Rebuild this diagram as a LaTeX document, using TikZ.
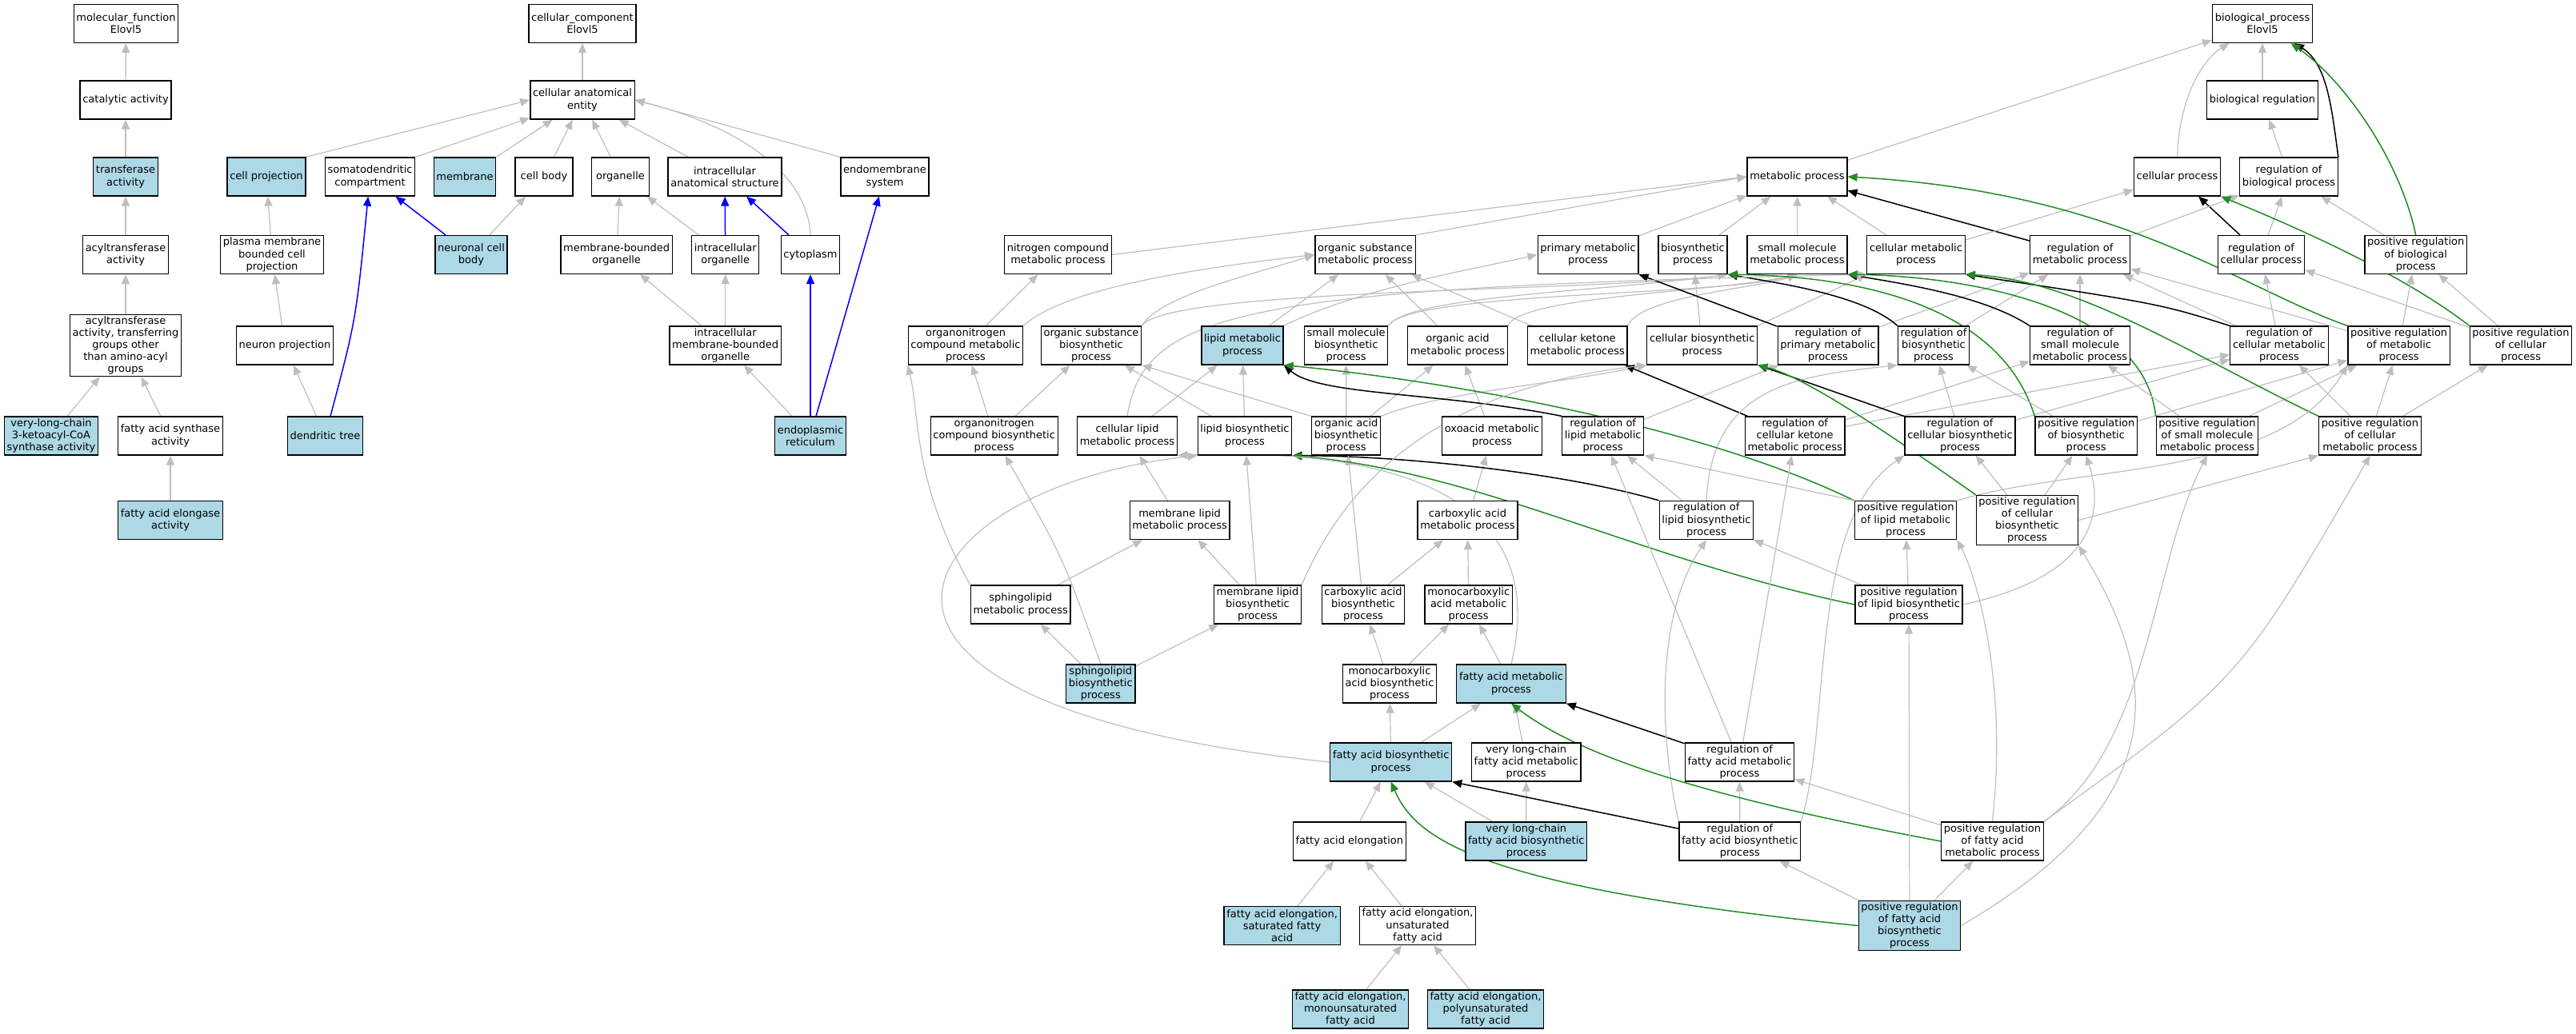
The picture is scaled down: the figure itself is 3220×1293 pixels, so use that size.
\documentclass[tikz,border=0pt]{standalone}
\usepackage{fontspec}
\setmainfont{DejaVu Sans}
\usetikzlibrary{arrows.meta,backgrounds}
\definecolor{isagray}{HTML}{BEBEBE}
\definecolor{hitblue}{HTML}{ADD8E6}
\definecolor{posgreen}{HTML}{228B22}
\newcommand\termfont{\fontsize{6.5}{7.6}\selectfont}
\tikzset{
 term/.style={draw=black,line width=0.65pt,fill=white,align=center,font=\termfont,inner xsep=1.6pt,inner ysep=1pt,minimum width=36pt,minimum height=24pt},
 hit/.style={term,fill=hitblue},
 isa/.style={draw=isagray,line width=0.6pt,-{Triangle[length=6pt,width=5pt]}},
 partof/.style={draw=blue,line width=0.75pt,-{Triangle[length=6pt,width=5pt]}},
 regulates/.style={draw=black,line width=0.75pt,-{Triangle[length=6pt,width=5pt]}},
 posreg/.style={draw=posgreen,line width=0.75pt,-{Triangle[length=6pt,width=5pt]}}
}
\begin{document}
\begin{tikzpicture}[x=0.5pt,y=-0.5pt]
 \useasboundingbox (0,0) rectangle (3220,1293);

 \node[term] (mf) at (157.5,29.5) {molecular\_function\\Elovl5};
 \node[term] (catalytic) at (157,125) {catalytic activity};
 \node[hit] (transferase) at (157,221) {transferase\\activity};
 \node[term] (acyltrans) at (157,318.5) {acyltransferase\\activity};
 \node[term] (acylgroups) at (157,432) {acyltransferase\\activity, transferring\\groups other\\than amino-acyl\\groups};
 \node[hit] (vlcsynthase) at (64,545) {very-long-chain\\3-ketoacyl-CoA\\synthase activity};
 \node[term] (fasynthase) at (213,545) {fatty acid synthase\\activity};
 \node[hit] (faelongase) at (213,650.5) {fatty acid elongase\\activity};

 \node[term] (cc) at (728,29.5) {cellular\_component\\Elovl5};
 \node[term] (cae) at (728,125) {cellular anatomical\\entity};
 \node[hit] (cellproj) at (333,221) {cell projection};
 \node[term] (somato) at (462.6,221) {somatodendritic\\compartment};
 \node[hit] (membrane) at (581,221) {membrane};
 \node[term] (cellbody) at (680,221) {cell body};
 \node[term] (organelle) at (775.5,221) {organelle};
 \node[term] (ias) at (906,221) {intracellular\\anatomical structure};
 \node[term] (endomem) at (1106,221) {endomembrane\\system};
 \node[term] (pmbcp) at (340,318.5) {plasma membrane\\bounded cell\\projection};
 \node[hit] (ncb) at (589,318.5) {neuronal cell\\body};
 \node[term] (mbo) at (770.6,318.5) {membrane-bounded\\organelle};
 \node[term] (io) at (906.7,318.5) {intracellular\\organelle};
 \node[term] (cytoplasm) at (1013,318.5) {cytoplasm};
 \node[term] (neuronproj) at (356,432) {neuron projection};
 \node[term] (imbo) at (906.7,432) {intracellular\\membrane-bounded\\organelle};
 \node[hit] (dendtree) at (406.5,545) {dendritic tree};
 \node[hit] (er) at (1013,545) {endoplasmic\\reticulum};

 \node[term] (bp) at (2828,29.5) {biological\_process\\Elovl5};
 \node[term] (bioreg) at (2828,125) {biological regulation};
 \node[term] (metab) at (2246.5,221) {metabolic process};
 \node[term] (cellproc) at (2721.5,221) {cellular process};
 \node[term] (regbio) at (2861,221) {regulation of\\biological process};
 \node[term] (nitro) at (1322.5,318.5) {nitrogen compound\\metabolic process};
 \node[term] (orgsub) at (1706.5,318.5) {organic substance\\metabolic process};
 \node[term] (primary) at (1985,318.5) {primary metabolic\\process};
 \node[term] (biosyn) at (2116,318.5) {biosynthetic\\process};
 \node[term] (smallmol) at (2246.5,318.5) {small molecule\\metabolic process};
 \node[term] (cellmetab) at (2395,318.5) {cellular metabolic\\process};
 \node[term] (regmetab) at (2600,318.5) {regulation of\\metabolic process};
 \node[term] (regcell) at (2826.5,318.5) {regulation of\\cellular process};
 \node[term] (posregbio) at (3019.7,318.5) {positive regulation\\of biological\\process};

 \node[term] (orgnitro) at (1207,432) {organonitrogen\\compound metabolic\\process};
 \node[term] (orgsubbio) at (1364,432) {organic substance\\biosynthetic\\process};
 \node[hit] (lipidmet) at (1553,432) {lipid metabolic\\process};
 \node[term] (smallbio) at (1682.6,432) {small molecule\\biosynthetic\\process};
 \node[term] (orgacid) at (1822,432) {organic acid\\metabolic process};
 \node[term] (ketone) at (1971.7,432) {cellular ketone\\metabolic process};
 \node[term] (cellbio) at (2127.7,432) {cellular biosynthetic\\process};
 \node[term] (regprim) at (2285,432) {regulation of\\primary metabolic\\process};
 \node[term] (regbiosyn) at (2417,432) {regulation of\\biosynthetic\\process};
 \node[term] (regsmall) at (2600,432) {regulation of\\small molecule\\metabolic process};
 \node[term] (regcellmet) at (2849,432) {regulation of\\cellular metabolic\\process};
 \node[term] (posregmet) at (2998.6,432) {positive regulation\\of metabolic\\process};
 \node[term] (posregcell) at (3151,432) {positive regulation\\of cellular\\process};

 \node[term] (orgnitrobio) at (1242.7,545) {organonitrogen\\compound biosynthetic\\process};
 \node[term] (celllipid) at (1409,545) {cellular lipid\\metabolic process};
 \node[term] (lipidbio) at (1556,545) {lipid biosynthetic\\process};
 \node[term] (orgacidbio) at (1682.7,545) {organic acid\\biosynthetic\\process};
 \node[term] (oxoacid) at (1865,545) {oxoacid metabolic\\process};
 \node[term] (reglipid) at (2003.7,545) {regulation of\\lipid metabolic\\process};
 \node[term] (regketone) at (2243.7,545) {regulation of\\cellular ketone\\metabolic process};
 \node[term] (regcellbio) at (2450,545) {regulation of\\cellular biosynthetic\\process};
 \node[term] (posregbiosyn) at (2607.7,545) {positive regulation\\of biosynthetic\\process};
 \node[term] (posregsmall) at (2759,545) {positive regulation\\of small molecule\\metabolic process};
 \node[term] (posregcellmet) at (2962.5,545) {positive regulation\\of cellular\\metabolic process};

 \node[term] (memlipid) at (1474.6,650.5) {membrane lipid\\metabolic process};
 \node[term] (carbox) at (1834.5,650.5) {carboxylic acid\\metabolic process};
 \node[term] (reglipidbio) at (2133,650.5) {regulation of\\lipid biosynthetic\\process};
 \node[term] (posreglipid) at (2382,650.5) {positive regulation\\of lipid metabolic\\process};
 \node[term] (posregcellbio) at (2534,650.5) {positive regulation\\of cellular\\biosynthetic\\process};

 \node[term] (sphingo) at (1275.7,756) {sphingolipid\\metabolic process};
 \node[term] (memlipidbio) at (1572,756) {membrane lipid\\biosynthetic\\process};
 \node[term] (carboxbio) at (1704,756) {carboxylic acid\\biosynthetic\\process};
 \node[term] (monocarb) at (1835.7,756) {monocarboxylic\\acid metabolic\\process};
 \node[term] (posreglipidbio) at (2386,756) {positive regulation\\of lipid biosynthetic\\process};

 \node[hit] (sphingobio) at (1375.8,855) {sphingolipid\\biosynthetic\\process};
 \node[term] (monocarbbio) at (1737,855) {monocarboxylic\\acid biosynthetic\\process};
 \node[hit] (famet) at (1889,855) {fatty acid metabolic\\process};

 \node[hit] (fabio) at (1738.7,953) {fatty acid biosynthetic\\process};
 \node[term] (vlcfamet) at (1907.7,953) {very long-chain\\fatty acid metabolic\\process};
 \node[term] (regfamet) at (2174.5,953) {regulation of\\fatty acid metabolic\\process};

 \node[term] (faelong) at (1686.8,1052) {fatty acid elongation};
 \node[hit] (vlcfabio) at (1907.8,1052) {very long-chain\\fatty acid biosynthetic\\process};
 \node[term] (regfabio) at (2174.8,1052) {regulation of\\fatty acid biosynthetic\\process};
 \node[term] (posregfamet) at (2490.5,1052) {positive regulation\\of fatty acid\\metabolic process};

 \node[hit] (elongsat) at (1602.6,1157.5) {fatty acid elongation,\\saturated fatty\\acid};
 \node[term] (elongunsat) at (1772,1157.5) {fatty acid elongation,\\unsaturated\\fatty acid};
 \node[hit] (posregfabio) at (2387,1157.5) {positive regulation\\of fatty acid\\biosynthetic\\process};

 \node[hit] (elongmono) at (1688,1262) {fatty acid elongation,\\monounsaturated\\fatty acid};
 \node[hit] (elongpoly) at (1857,1262) {fatty acid elongation,\\polyunsaturated\\fatty acid};

 \begin{pgfonlayer}{background}
 \draw[isa] (catalytic) -- (mf);
 \draw[isa] (transferase) -- (catalytic);
 \draw[isa] (acyltrans) -- (transferase);
 \draw[isa] (acylgroups) -- (acyltrans);
 \draw[isa] (vlcsynthase) -- (acylgroups);
 \draw[isa] (fasynthase) -- (acylgroups);
 \draw[isa] (faelongase) -- (fasynthase);

 \draw[isa] (cae) -- (cc);
 \draw[isa] (cellproj.north east) -- (cae.west);
 \draw[isa] (somato.north east) -- (cae);
 \draw[isa] (membrane.north east) -- (cae);
 \draw[isa] (cellbody) -- (cae);
 \draw[isa] (organelle) -- (cae);
 \draw[isa] (ias) -- (cae);
 \draw[isa] (endomem.north west) -- (cae.east);
 \draw[isa] (cytoplasm.north) .. controls (1010,220) and (930,160) .. (cae.east);
 \draw[isa] (pmbcp) -- (cellproj);
 \draw[partof] (ncb) -- (somato);
 \draw[isa] (ncb) -- (cellbody);
 \draw[isa] (mbo) -- (organelle);
 \draw[isa] (io) -- (organelle);
 \draw[partof] (io) -- (ias);
 \draw[partof] (cytoplasm) -- (ias);
 \draw[isa] (neuronproj) -- (pmbcp);
 \draw[isa] (imbo) -- (mbo);
 \draw[isa] (imbo) -- (io);
 \draw[isa] (dendtree) -- (neuronproj);
 \draw[partof] (dendtree) .. controls (445,400) .. (somato);
 \draw[isa] (er) -- (imbo);
 \draw[partof] (er) -- (cytoplasm);
 \draw[partof] (er) -- (endomem);

 \draw[isa] (metab) -- (bp);
 \draw[isa] (cellproc.north) .. controls (2725,110) and (2760,70) .. (bp);
 \draw[isa] (bioreg) -- (bp);
 \draw[regulates] (regbio.north east) .. controls (2915,140) and (2910,80) .. (bp);
 \draw[posreg] (posregbio.north) .. controls (3000,200) and (2930,100) .. (bp);
 \draw[isa] (regbio) -- (bioreg);
 \draw[regulates] (regcell) -- (cellproc);
 \draw[isa] (regcell) -- (regbio);
 \draw[isa] (posregbio) -- (regbio);
 \draw[regulates] (regmetab) -- (metab);
 \draw[isa] (regmetab) -- (regbio);
 \draw[isa] (cellmetab) -- (cellproc);
 \draw[posreg] (posregcell.north west) .. controls (3000,340) and (2860,280) .. (cellproc.south east);
 \draw[isa] (posregcell) -- (regcell);
 \draw[isa] (posregcell) -- (posregbio);
 \draw[posreg] (posregmet.north west) .. controls (2800,360) and (2650,240) .. (metab.east);
 \draw[isa] (posregmet) -- (regmetab);
 \draw[isa] (posregmet) -- (posregbio);

 \draw[isa] (nitro.east) -- (metab.west);
 \draw[isa] (orgsub.north east) -- (metab.west);
 \draw[isa] (primary) -- (metab);
 \draw[isa] (biosyn) -- (metab);
 \draw[isa] (smallmol) -- (metab);
 \draw[isa] (cellmetab) -- (metab);

 \draw[isa] (orgnitro) -- (nitro);
 \draw[isa] (orgnitro.north east) .. controls (1330,360) and (1500,335) .. (orgsub.west);
 \draw[isa] (orgsubbio.north east) .. controls (1450,370) and (1560,345) .. (orgsub.west);
 \draw[isa] (orgsubbio.north east) .. controls (1460,360) and (2000,365) .. (biosyn.south east);
 \draw[isa] (lipidmet) -- (orgsub);
 \draw[isa] (lipidmet.north east) .. controls (1700,360) and (1850,335) .. (primary.west);
 \draw[isa] (smallbio.north east) .. controls (1760,365) and (2150,370) .. (smallmol.south);
 \draw[isa] (smallbio.north east) .. controls (1760,370) and (2000,365) .. (biosyn.south east);
 \draw[isa] (orgacid) -- (orgsub);
 \draw[isa] (orgacid.north east) .. controls (1900,370) and (2150,365) .. (smallmol.south);
 \draw[isa] (ketone) -- (orgsub);
 \draw[isa] (ketone.north east) .. controls (2050,370) and (2200,360) .. (smallmol.south);
 \draw[isa] (cellbio) -- (biosyn);
 \draw[isa] (cellbio.north east) -- (cellmetab.south west);
 \draw[isa] (regprim) -- (regmetab);
 \draw[regulates] (regprim) -- (primary.south east);
 \draw[regulates] (regbiosyn.north west) .. controls (2330,370) and (2230,355) .. (biosyn.south east);
 \draw[isa] (regbiosyn) -- (regmetab);
 \draw[regulates] (regsmall.north west) .. controls (2480,370) and (2380,355) .. (smallmol.south east);
 \draw[isa] (regsmall) -- (regmetab);
 \draw[regulates] (regcellmet.north west) .. controls (2700,380) .. (cellmetab.south east);
 \draw[isa] (regcellmet) -- (regmetab);
 \draw[isa] (regcellmet) -- (regcell);

 \draw[isa] (orgnitrobio) -- (orgnitro);
 \draw[isa] (orgnitrobio) -- (orgsubbio);
 \draw[isa] (celllipid) -- (lipidmet);
 \draw[isa] (celllipid.north) .. controls (1430,390) and (1550,360) .. (cellmetab.south west);
 \draw[isa] (lipidbio) -- (lipidmet);
 \draw[isa] (lipidbio) -- (orgsubbio);
 \draw[isa] (orgacidbio) -- (orgacid);
 \draw[isa] (orgacidbio) -- (smallbio);
 \draw[isa] (orgacidbio.north west) -- (orgsubbio.south east);
 \draw[isa] (orgacidbio.north east) .. controls (1800,490) and (1950,480) .. (cellbio.south west);
 \draw[isa] (oxoacid) -- (orgacid);
 \draw[regulates] (reglipid.north west) .. controls (1800,490) and (1650,495) .. (lipidmet.south east);
 \draw[isa] (reglipid) -- (regprim);
 \draw[regulates] (regketone) -- (ketone);
 \draw[isa] (regketone) -- (regcellmet);
 \draw[isa] (regketone) -- (regsmall);
 \draw[regulates] (regcellbio) -- (cellbio);
 \draw[isa] (regcellbio) -- (regbiosyn);
 \draw[isa] (regcellbio) -- (regcellmet);
 \draw[posreg] (posregbiosyn.north west) .. controls (2500,380) and (2320,345) .. (biosyn.south east);
 \draw[isa] (posregbiosyn) -- (regbiosyn);
 \draw[isa] (posregbiosyn) -- (posregmet);
 \draw[posreg] (posregsmall.north west) .. controls (2680,380) and (2450,345) .. (smallmol.south east);
 \draw[isa] (posregsmall) -- (regsmall);
 \draw[isa] (posregsmall) -- (posregmet);
 \draw[posreg] (posregcellmet.north west) .. controls (2750,450) and (2600,350) .. (cellmetab.south east);
 \draw[isa] (posregcellmet) -- (regcellmet);
 \draw[isa] (posregcellmet) -- (posregmet);
 \draw[isa] (posregcellmet) -- (posregcell);

 \draw[isa] (memlipid) -- (celllipid);
 \draw[isa] (carbox) -- (oxoacid);
 \draw[regulates] (reglipidbio.north west) .. controls (1950,590) and (1750,570) .. (lipidbio.south east);
 \draw[isa] (reglipidbio) -- (reglipid);
 \draw[isa] (reglipidbio.north) .. controls (2140,480) and (2250,470) .. (regbiosyn.south west);
 \draw[posreg] (posreglipid.north west) .. controls (2100,520) and (1750,470) .. (lipidmet.south east);
 \draw[isa] (posreglipid.north west) -- (reglipid.south east);
 \draw[isa] (posreglipid.north east) .. controls (2600,580) and (2850,600) .. (posregmet.south west);
 \draw[posreg] (posregcellbio.north west) .. controls (2330,520) and (2250,470) .. (cellbio.south east);
 \draw[isa] (posregcellbio) -- (regcellbio);
 \draw[isa] (posregcellbio) -- (posregbiosyn);
 \draw[isa] (posregcellbio.east) -- (posregcellmet.south west);

 \draw[isa] (sphingo) -- (memlipid);
 \draw[isa] (sphingo.north west) .. controls (1140,600) and (1150,520) .. (orgnitro.south west);
 \draw[isa] (memlipidbio) -- (memlipid);
 \draw[isa] (memlipidbio) -- (lipidbio);
 \draw[isa] (memlipidbio.north east) .. controls (1700,560) and (1850,480) .. (cellbio.south west);
 \draw[isa] (carboxbio) -- (orgacidbio);
 \draw[isa] (carboxbio) -- (carbox);
 \draw[isa] (monocarb) -- (carbox);
 \draw[isa] (posreglipidbio) -- (reglipidbio);
 \draw[isa] (posreglipidbio) -- (posreglipid);
 \draw[posreg] (posreglipidbio.west) .. controls (2050,700) and (1850,590) .. (lipidbio.south east);
 \draw[isa] (posreglipidbio.east) .. controls (2620,720) and (2630,640) .. (posregbiosyn.south);

 \draw[isa] (sphingobio) -- (sphingo);
 \draw[isa] (sphingobio) -- (memlipidbio);
 \draw[isa] (sphingobio.north) .. controls (1330,700) .. (orgnitrobio);
 \draw[isa] (monocarbbio) -- (carboxbio);
 \draw[isa] (monocarbbio) -- (monocarb);
 \draw[isa] (famet) -- (monocarb);
 \draw[isa] (famet.north) .. controls (1945,600) and (1700,560) .. (celllipid.south east);

 \draw[isa] (fabio) -- (monocarbbio);
 \draw[isa] (fabio) -- (famet);
 \draw[isa] (fabio.west) .. controls (960,880) and (1130,610) .. (lipidbio.south west);
 \draw[isa] (vlcfamet) -- (famet);
 \draw[regulates] (regfamet) -- (famet.south east);
 \draw[isa] (regfamet) -- (reglipid);
 \draw[isa] (regfamet) -- (regketone);

 \draw[isa] (faelong) -- (fabio);
 \draw[isa] (vlcfabio) -- (fabio);
 \draw[isa] (vlcfabio) -- (vlcfamet);
 \draw[regulates] (regfabio) -- (fabio.south east);
 \draw[isa] (regfabio) -- (regfamet);
 \draw[isa] (regfabio.north west) .. controls (2070,900) and (2075,760) .. (reglipidbio.south);
 \draw[isa] (regfabio.north east) .. controls (2290,900) and (2260,650) .. (regcellbio.south west);
 \draw[posreg] (posregfamet.west) .. controls (2150,1000) and (1980,950) .. (famet.south);
 \draw[isa] (posregfamet) -- (regfamet);
 \draw[isa] (posregfamet.north) .. controls (2510,850) and (2470,720) .. (posreglipid.south east);
 \draw[isa] (posregfamet.north east) .. controls (2690,930) and (2690,700) .. (posregsmall.south);
 \draw[isa] (posregfamet.north east) .. controls (2800,850) .. (posregcellmet.south);

 \draw[isa] (elongsat) -- (faelong);
 \draw[isa] (elongunsat) -- (faelong);
 \draw[posreg] (posregfabio.west) .. controls (1850,1110) and (1770,1050) .. (fabio.south);
 \draw[isa] (posregfabio) -- (regfabio);
 \draw[isa] (posregfabio) -- (posregfamet);
 \draw[isa] (posregfabio) -- (posreglipidbio);
 \draw[isa] (posregfabio.east) .. controls (2720,1000) and (2700,850) .. (posregcellbio.south east);

 \draw[isa] (elongmono) -- (elongunsat);
 \draw[isa] (elongpoly) -- (elongunsat);
 \end{pgfonlayer}
\end{tikzpicture}
\end{document}
